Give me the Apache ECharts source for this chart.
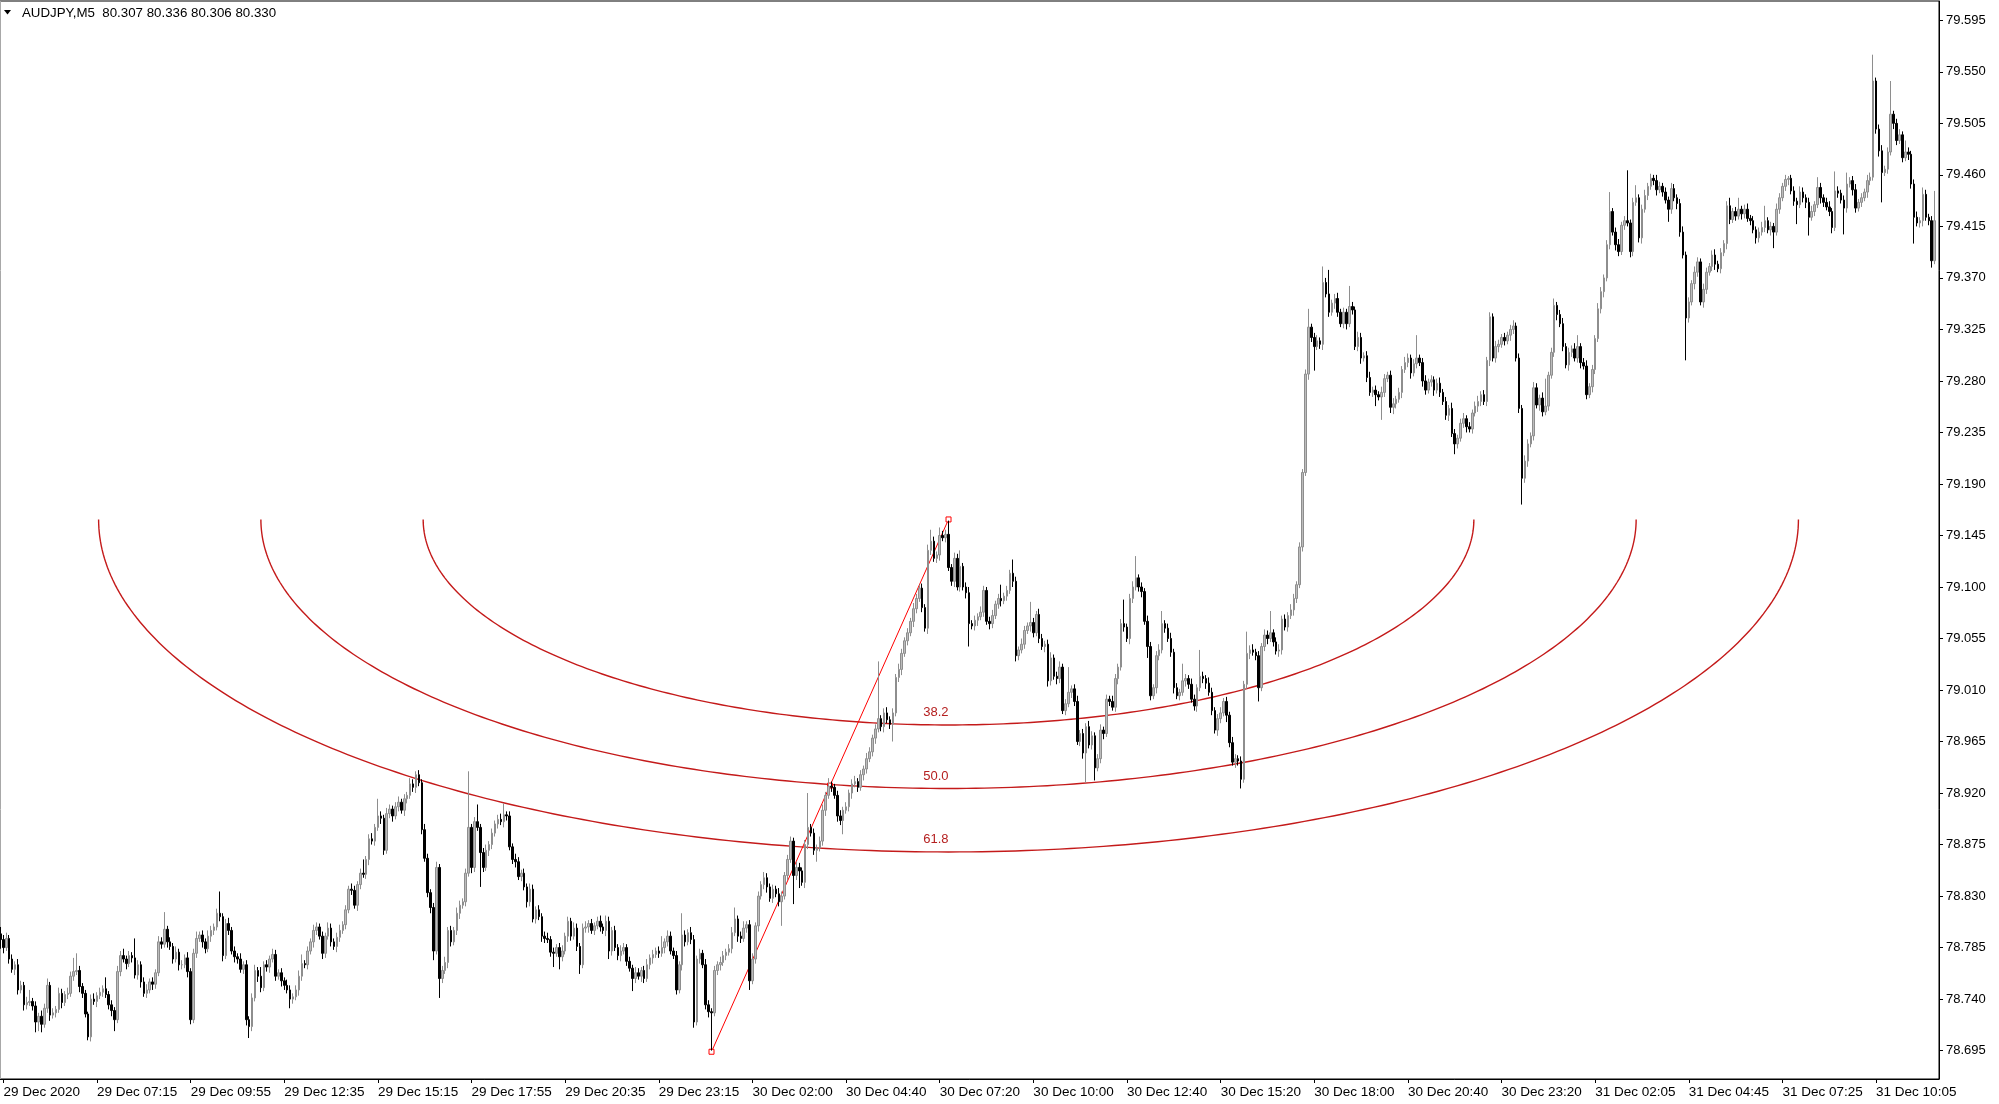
<!DOCTYPE html>
<html><head><meta charset="utf-8">
<script src="https://cdn.jsdelivr.net/npm/echarts@6/dist/echarts.min.js"></script>
<style>html,body{margin:0;padding:0;background:#fff}#c{width:1999px;height:1104px}</style>
</head><body><div id="c"></div>
<script>
const symbolTitle = 'AUDJPY,M5  80.307 80.336 80.306 80.330';
const firstOpen = 78.797;
const closes = [
78.792,78.785,78.793,78.775,78.766,78.770,78.748,78.752,78.735,78.737,
78.738,78.734,78.720,78.725,78.718,78.732,78.752,78.726,78.728,78.731,
78.745,78.737,78.744,78.745,78.760,78.764,78.765,78.751,78.745,78.727,
78.707,78.740,78.738,78.743,78.746,78.749,78.744,78.735,78.730,78.722,
78.764,78.778,78.775,78.771,78.778,78.776,78.761,78.770,78.755,78.745,
78.748,78.755,78.753,78.763,78.790,78.788,78.801,78.790,78.786,78.775,
78.781,78.770,78.770,78.776,78.764,78.722,78.780,78.793,
78.796,78.790,78.784,78.795,78.800,78.803,78.815,78.812,78.778,78.806,
78.800,78.782,78.777,78.775,78.766,78.770,78.722,78.716,78.741,78.765,
78.760,78.750,78.770,78.768,78.775,78.779,78.760,78.763,78.756,78.752,
78.748,78.740,78.742,78.748,78.760,78.771,78.770,78.782,78.790,78.800,
78.803,78.795,78.780,78.795,78.802,78.790,78.786,78.794,78.800,78.805,
78.818,78.836,78.835,78.822,78.840,78.850,78.849,78.862,78.880,78.878,
78.890,78.900,78.898,78.870,78.902,78.906,78.900,78.908,78.912,
78.905,78.915,78.918,78.928,78.925,78.936,78.929,78.888,78.863,78.833,
78.820,78.782,78.855,78.758,78.765,78.772,78.800,78.790,78.800,78.815,
78.822,78.825,78.850,78.890,78.855,78.895,78.890,78.868,78.855,78.870,
78.875,78.885,78.893,78.897,78.895,78.901,78.900,78.873,78.862,78.860,
78.847,78.850,78.838,78.825,78.836,78.810,78.818,78.812,78.795,78.793,
78.792,78.781,78.780,78.785,78.777,78.782,78.795,78.808,78.795,78.802,
78.786,78.770,78.802,78.803,78.806,78.800,78.804,78.808,
78.803,78.800,78.808,78.782,78.800,78.785,78.778,78.782,78.785,78.773,
78.767,78.758,78.763,78.760,78.765,78.758,78.770,78.776,78.779,78.782,
78.780,78.785,78.790,78.795,78.782,78.778,78.748,78.770,78.796,78.790,
78.798,78.792,78.720,78.775,78.780,78.770,78.735,78.729,78.728,78.765,
78.770,78.772,78.778,78.781,78.784,78.798,78.810,78.795,78.793,78.802,
78.805,78.756,78.775,78.804,78.830,78.840,78.846,78.838,78.828,78.836,
78.832,78.825,78.830,78.848,78.862,
78.878,78.848,78.855,78.852,78.842,78.875,78.890,78.885,78.870,78.872,
78.878,78.905,78.918,78.926,78.925,78.918,78.900,78.896,78.905,78.908,
78.920,78.928,78.930,78.925,78.936,78.941,78.950,78.956,78.968,78.976,
78.985,78.978,78.990,78.984,78.980,78.990,79.021,79.028,79.042,79.053,
79.060,79.070,79.081,79.090,79.099,79.082,79.064,79.132,79.140,79.125,
79.128,79.145,79.143,79.146,79.117,79.105,79.125,79.100,
79.118,79.100,79.095,79.068,79.066,79.071,79.074,79.078,79.097,79.070,
79.068,79.075,79.085,79.090,79.088,79.092,79.097,79.112,79.105,79.040,
79.045,79.050,79.062,79.066,79.069,79.060,79.076,79.055,79.048,79.050,
79.018,79.038,79.022,79.020,79.030,78.992,78.998,79.008,79.011,79.000,
78.965,78.972,78.955,78.978,78.962,78.970,78.942,78.950,78.975,78.972,
79.002,79.000,78.995,79.020,79.030,79.068,79.065,79.055,
79.090,79.100,79.108,79.100,79.096,79.070,79.048,79.005,79.012,79.040,
79.045,79.068,79.064,79.055,79.043,79.012,79.005,79.008,79.018,79.020,
79.015,79.002,78.996,79.012,79.022,79.020,79.016,79.008,78.992,78.975,
78.985,78.990,79.000,78.988,78.964,78.947,78.950,78.948,78.932,79.015,
79.042,79.045,79.043,79.040,79.012,79.048,79.058,79.055,79.060,79.052,
79.044,79.045,79.072,79.065,79.075,79.080,79.090,79.102,79.135,
79.200,79.286,79.327,79.318,79.310,79.315,79.312,79.366,79.356,79.340,
79.348,79.352,79.340,79.330,79.340,79.330,79.345,79.342,79.310,79.318,
79.300,79.302,79.283,79.270,79.272,79.268,79.266,79.270,79.282,79.285,
79.257,79.260,79.264,79.270,79.290,79.296,79.300,79.287,79.295,79.300,
79.296,79.280,79.272,79.279,79.281,79.272,79.278,79.270,79.262,79.250,
79.256,79.234,79.225,79.230,79.243,79.247,79.240,79.238,79.252,79.258,
79.262,79.268,79.262,79.298,79.336,79.300,79.310,79.312,
79.318,79.315,79.320,79.325,79.328,79.300,79.256,79.195,79.210,79.225,
79.232,79.274,79.259,79.265,79.253,79.258,79.285,79.305,79.346,79.338,
79.330,79.310,79.294,79.305,79.308,79.300,79.310,79.296,79.293,79.268,
79.275,79.290,79.317,79.343,79.358,79.370,79.399,79.428,79.410,79.399,
79.393,79.416,79.420,79.418,79.393,79.436,79.440,79.405,79.430,79.442,
79.450,79.457,79.455,79.447,79.450,79.445,79.438,79.430,79.448,79.440,
79.435,79.410,79.390,79.335,79.349,79.365,79.375,79.384,79.349,79.360,
79.375,79.380,79.390,79.382,79.378,
79.392,79.400,79.433,79.421,79.428,79.424,79.430,79.426,79.430,79.422,
79.420,79.412,79.405,79.410,79.414,79.420,79.412,79.415,79.410,79.430,
79.440,79.450,79.456,79.457,79.446,79.437,79.434,79.445,79.440,79.436,
79.423,79.428,79.434,79.449,79.440,79.436,79.432,79.428,79.414,79.446,
79.444,79.438,79.431,79.452,79.455,79.447,79.431,79.436,79.440,79.445,
79.455,79.458,79.542,79.500,79.481,79.462,79.465,79.480,79.513,79.505,
79.490,79.495,79.475,79.480,79.478,79.452,79.423,79.418,79.420,79.443,
79.423,79.420,79.385,79.420
];
// upper / lower wick lengths in points (1 point = 0.001)
const upperWick = [
6,4,5,3,4,3,5,4,3,5, 10,3,4,3,5,4,6,3,4,3, 5,4,3,5,4,12,15,4,3,3, 2,4,5,3,4,3,10,3,4,3,
5,4,6,3,4,3,17,4,3,4, 5,3,4,3,5,4,15,3,4,3, 5,3,4,3,5,3,4,6,3,4, 3,5,4,3,4,19,3,4,5,3,
4,3,5,3,4,3,4,5,3,8, 3,4,3,5,4,3,4,3,5,4, 3,4,5,8,3,4,3,5,4,3, 4,3,5,4,3,4,5,3,4,3,
5,4,3,4,12,3,4,5,3,15, 4,3,5,4,3,4,5,3,4,3, 5,4,3,4,3,5,4,3,4,5, 3,4,5,3,4,3,5,4,3,4,
49,3,4,15,3,4,5,3,4,3, 4,5,10,3,4,3,5,4,3,4, 3,5,4,3,4,3,4,5,3,4, 3,4,5,3,4,3,5,4,3,4,
5,3,4,3,4,5,3,5,4,3, 4,3,5,4,3,4,3,5,4,3, 4,5,3,4,3,4,10,3,5,4, 3,4,3,19,4,3,5,4,3,4,
3,5,4,3,4,3,5,4,3,4, 5,10,3,4,6,3,4,5,3,4, 3,5,4,3,4,3,5,4,3,4, 4,3,5,4,3,4,30,3,4,3,
4,5,3,7,4,3,4,5,3,4, 3,4,5,3,4,3,5,4,3,4, 50,3,4,5,3,4,3,5,4,3, 4,3,5,4,3,4,3,5,10,4,
3,7,4,4,12,3,5,4,14,3, 4,5,3,4,3,5,4,3,4,5, 3,4,12,3,4,3,12,4,3,5, 4,3,18,4,3,5,4,3,4,5,
3,4,5,3,4,22,3,4,5,3, 4,3,5,4,3,4,5,3,4,3, 5,4,3,4,21,3,4,5,19,3, 4,3,5,4,3,4,5,11,3,4,
5,3,4,3,15,4,3,5,4,3, 23,4,3,5,4,3,4,5,3,4, 3,5,4,3,4,3,19,4,5,3, 4,3,5,4,19,3,4,5,3,4,
3,5,4,3,4,3,4,16,3,4, 5,3,14,4,21,3,4,5,3,4, 3,18,4,3,5,4,3,4,5,3, 4,3,5,4,3,4,5,3,4,3,
5,4,3,4,20,3,4,5,3,4, 3,4,5,3,4,3,5,4,3,4, 5,3,4,3,4,5,3,4,3,4, 3,5,4,3,4,3,4,5,3,4,
3,5,4,3,5,4,3,5,24,3, 4,6,3,4,5,3,4,3,5,10, 3,4,5,3,4,3,5,4,3,4, 17,3,4,5,3,4,44,3,4,11,
3,4,5,3,4,3,5,4,3,4, 3,5,4,3,4,5,3,4,3,5, 4,3,5,4,3,4,5,3,4,3, 4,7,3,4,10,3,4,5,3,4,
3,4,5,13,3,4,3,5,4,3, 4,2,3,4,3,5,4,3,4,5, 3,9,4,3,4,5,3,17,4,3, 4,10,3,4,5,3,4,3,5,4,
23,3,4,5,3,4,29,3,4,5, 3,10,4,3,4,5,3,6,4,3, 4,26
];
const lowerWick = [
8,5,3,4,3,5,4,3,5,4, 3,4,9,8,7,3,4,5,3,4, 3,5,3,4,3,4,3,5,4,3, 3,4,3,5,3,4,3,4,5,10,
3,4,3,5,3,4,3,4,5,3, 4,3,5,4,3,4,3,5,3,4, 3,5,4,3,5,4,3,4,3,5, 4,3,5,4,3,4,5,3,4,3,
5,4,3,4,5,10,4,3,5,4, 3,4,5,3,4,3,5,4,3,8, 4,3,5,4,3,4,3,5,4,3, 5,4,3,4,3,5,4,3,4,3,
4,3,5,4,3,4,5,3,4,3, 5,4,3,4,5,3,4,3,5,4, 3,4,5,3,4,3,4,5,8,3, 17,4,3,5,4,3,4,5,3,4,
3,5,4,3,30,4,3,5,4,3, 4,3,5,4,3,4,5,3,4,3, 5,4,3,4,3,5,4,3,4,12, 3,11,4,3,5,4,3,4,8,3,
4,5,3,4,3,4,3,5,7,4, 3,4,5,3,4,3,11,4,3,5, 4,3,4,5,3,4,3,5,4,3, 3,4,3,5,4,3,4,5,3,4,
3,4,5,33,3,4,5,3,4,3, 4,3,5,4,3,4,8,3,4,5, 3,4,5,3,4,3,4,21,3,4, 3,25,4,15,3,5,4,3,4,10,
3,4,5,3,4,3,5,4,12,3, 4,5,3,4,3,5,4,3,4,5, 3,4,5,3,4,15,3,4,5,3, 4,3,5,4,3,4,3,5,4,3,
4,5,3,4,3,4,5,3,4,3, 5,20,3,4,5,3,4,3,5,4, 3,4,5,3,4,3,5,5,4,3, 4,3,5,4,3,4,3,5,5,4,
3,5,4,3,4,3,5,4,3,4, 5,26,3,4,11,3,4,5,3,4, 3,4,5,3,4,3,5,4,3,4, 5,3,10,4,3,5,4,3,4,3,
4,5,3,4,3,5,4,3,4,5, 3,4,5,3,4,3,5,4,3,6, 4,3,5,4,8,3,4,5,3,4, 12,3,4,5,3,4,3,5,4,3,
4,3,5,4,3,4,3,5,4,21, 3,4,5,3,4,3,5,4,3,4, 5,3,4,3,4,5,3,4,3,4, 10,3,20,4,3,5,6,4,3,5,
3,4,5,3,4,3,5,4,3,4, 5,3,4,3,4,5,3,9,4,3, 4,5,3,4,3,5,4,3,4,5, 3,4,5,3,4,3,5,4,3,4,
23,4,5,3,4,3,5,4,3,4, 3,4,5,3,4,3,5,4,3,4, 5,3,4,3,5,4,3,4,5,3, 4,3,5,4,3,4,3,5,4,3,
4,5,3,4,3,4,5,3,4,3, 11,4,3,5,4,3,37,4,3,5, 4,3,5,4,3,4,5,3,4,3, 5,4,3,4,3,5,4,3,4,3,
5,4,3,4,3,5,14,3,4,3, 4,5,3,4,17,3,4,5,16,3, 4,3,5,4,3,4,5,3,4,3, 23,4,3,5,4,3,4,3,5,4,
3,4,5,26,3,4,3,5,4,3, 4,3,5,4,23,3,4,5,3,4, 6,3
];
const POINT = 0.001;

const tickLabels = ['29 Dec 2020','29 Dec 07:15','29 Dec 09:55','29 Dec 12:35','29 Dec 15:15','29 Dec 17:55','29 Dec 20:35','29 Dec 23:15','30 Dec 02:00','30 Dec 04:40','30 Dec 07:20','30 Dec 10:00','30 Dec 12:40','30 Dec 15:20','30 Dec 18:00','30 Dec 20:40','30 Dec 23:20','31 Dec 02:05','31 Dec 04:45','31 Dec 07:25','31 Dec 10:05'];
const firstTickBar = 1;
const tickEvery = 32;
const yTicks = [78.695,78.740,78.785,78.830,78.875,78.920,78.965,79.010,79.055,79.100,79.145,79.190,79.235,79.280,79.325,79.370,79.415,79.460,79.505,79.550,79.595];
const yMin = 78.6702, yMax = 79.6119;
const emptySlotsRight = 1;   // chart shift: blank space after the last bar

const fibStart = {bar: 243, price: 78.694};
const fibEnd = {bar: 324, price: 79.159};
const fibLevels = [0.382, 0.5, 0.618];
const fibLabels = ['38.2', '50.0', '61.8'];
const arcWidthBars = 470;     // horizontal half-width of the 100% arc, in bars
const arcHeightPrice = 0.470; // vertical half-height of the 100% arc, in price

const FONT = '"Liberation Sans", Arial, sans-serif';
const ohlc = closes.map((c, i) => {
  const o = i === 0 ? firstOpen : closes[i - 1];
  const hi = Math.max(o, c) + upperWick[i] * POINT;
  const lo = Math.min(o, c) - lowerWick[i] * POINT;
  return [o, c, +lo.toFixed(3), +hi.toFixed(3)];
});
const barIndex = [];
for (let i = 0; i < closes.length + emptySlotsRight; i++) barIndex.push(String(i));
const isTick = (i) => i >= firstTickBar && (i - firstTickBar) % tickEvery === 0;

const chart = echarts.init(document.getElementById('c'), null, {renderer: 'canvas'});
chart.setOption({
  animation: false,
  backgroundColor: '#fff',
  grid: {left: -1, right: 60, top: 1, bottom: 25, show: true, borderColor: '#000', borderWidth: 1, backgroundColor: '#fff', containLabel: false, outerBoundsMode: 'none'},
  xAxis: {
    type: 'category', data: barIndex, boundaryGap: true,
    axisLine: {show: true, lineStyle: {color: '#000', width: 1}},
    axisTick: {show: true, alignWithLabel: true, interval: isTick, length: 4, lineStyle: {color: '#000'}},
    axisLabel: {interval: isTick, align: 'left', margin: 6, color: '#000', fontFamily: FONT, fontSize: 13.5,
      formatter: (v, i) => tickLabels[(i - firstTickBar) / tickEvery] || ''},
    splitLine: {show: false}
  },
  yAxis: {
    type: 'value', position: 'right', min: yMin, max: yMax, scale: true,
    axisLine: {show: true, lineStyle: {color: '#000'}},
    axisTick: {show: true, length: 4, customValues: yTicks, lineStyle: {color: '#000'}},
    axisLabel: {customValues: yTicks, margin: 7, color: '#000', fontFamily: FONT, fontSize: 13, formatter: v => v.toFixed(3)},
    splitLine: {show: false}
  },
  graphic: [
    {type: 'line', shape: {x1: 0.5, y1: 1, x2: 0.5, y2: 1079}, style: {stroke: '#a8a8a8', lineWidth: 1}},
    {type: 'polygon', shape: {points: [[4, 10], [11, 10], [7.5, 14.5]]}, style: {fill: '#000'}},
    {type: 'text', x: 22, y: 13, style: {text: symbolTitle, font: '13.3px ' + FONT, fill: '#000', verticalAlign: 'middle'}}
  ],
  series: [
    {
      type: 'candlestick', data: ohlc, large: false, barWidth: 2,
      itemStyle: {color: '#bcbcbc', color0: '#000000', borderColor: '#8e8e8e', borderColor0: '#000000', borderWidth: 1},
      emphasis: {disabled: true}
    },
    {
      type: 'custom', silent: true,
      data: [[fibEnd.bar, fibEnd.price]],
      renderItem: (params, api) => {
        const n = closes.length;
        const x0 = api.coord([0, yMin])[0];
        const x1 = api.coord([n - 1, yMin])[0];
        const bw = (x1 - x0) / (n - 1);
        const px = b => x0 + b * bw;
        const py = p => api.coord([0, p])[1];
        const children = [];
        fibLevels.forEach((lvl, k) => {
          const pts = [];
          for (let s = 0; s <= 240; s++) {
            const t = Math.PI * s / 240;
            pts.push([px(fibEnd.bar + lvl * arcWidthBars * Math.cos(t)), py(fibEnd.price - lvl * arcHeightPrice * Math.sin(t))]);
          }
          children.push({type: 'polyline', shape: {points: pts}, style: {stroke: '#c41a1a', lineWidth: 1.4, fill: null}});
          children.push({type: 'text', x: px(fibEnd.bar), y: py(fibEnd.price - lvl * arcHeightPrice) - 6,
            style: {text: fibLabels[k], fill: '#b52020', font: '13px ' + FONT, align: 'right', verticalAlign: 'bottom'}});
        });
        const sx = px(fibStart.bar), sy = py(fibStart.price), ex = px(fibEnd.bar), ey = py(fibEnd.price);
        children.push({type: 'line', shape: {x1: sx, y1: sy, x2: ex, y2: ey}, style: {stroke: '#ff0000', lineWidth: 1}});
        [[sx, sy], [(sx + ex) / 2, (sy + ey) / 2], [ex, ey]].forEach(p => {
          children.push({type: 'rect', shape: {x: p[0] - 2.5, y: p[1] - 2.5, width: 5, height: 5}, style: {fill: '#fff', stroke: '#ff0000', lineWidth: 1}});
        });
        return {type: 'group', children};
      }
    }
  ]
});
</script>
</body></html>
